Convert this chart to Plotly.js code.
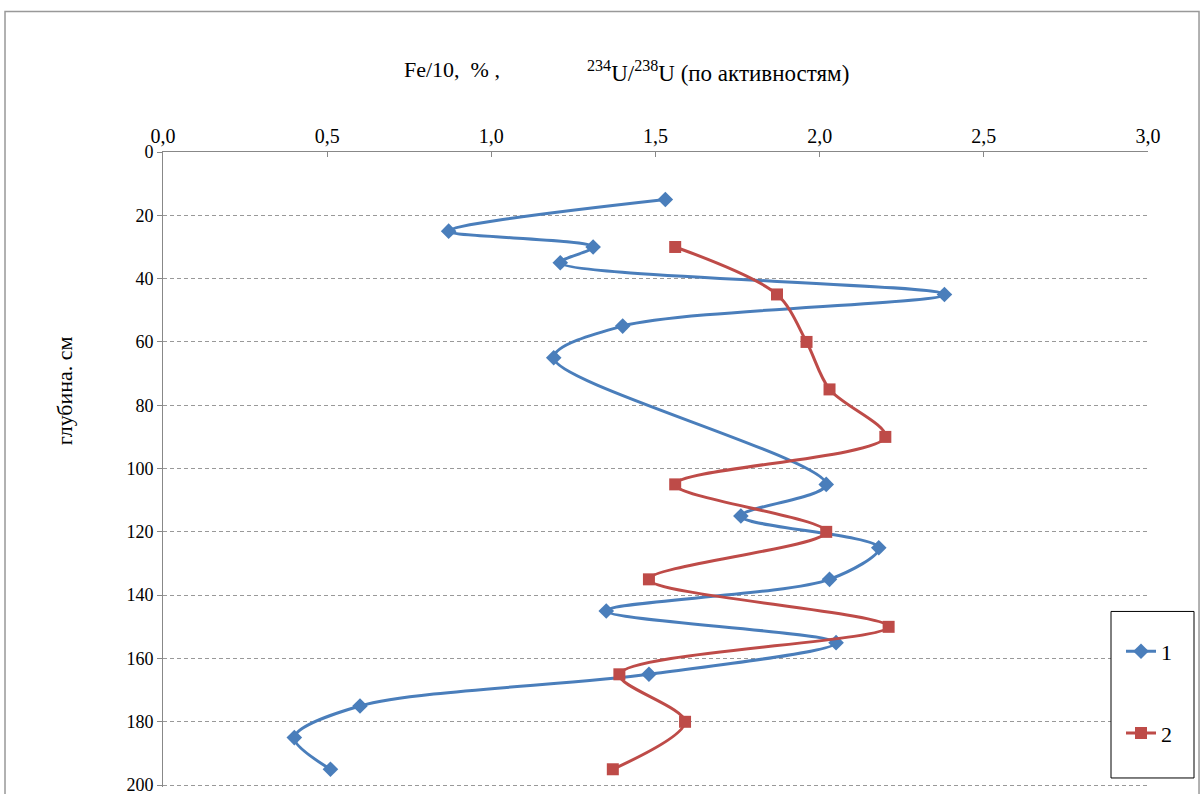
<!DOCTYPE html>
<html><head><meta charset="utf-8">
<script src="https://cdn.plot.ly/plotly-3.0.1.min.js"></script>
<style>body{margin:0;background:#fff}#chart{width:1203px;height:794px}</style>
</head><body><div id="chart"></div>
<script>
// Series 1: Fe/10, %
const depth1 = [15, 25, 30, 35, 45, 55, 65, 105, 115, 125, 135, 145, 155, 165, 175, 185, 195];
const fe = [1.53, 0.87, 1.31, 1.21, 2.38, 1.40, 1.19, 2.02, 1.76, 2.18, 2.03, 1.35, 2.05, 1.48, 0.60, 0.40, 0.51];
// Series 2: 234U/238U
const depth2 = [30, 45, 60, 75, 90, 105, 120, 135, 150, 165, 180, 195];
const uRatio = [1.56, 1.87, 1.96, 2.03, 2.20, 1.56, 2.02, 1.48, 2.21, 1.39, 1.59, 1.37];
const xTicks = [0, 0.5, 1.0, 1.5, 2.0, 2.5, 3.0];
const yTicks = [0, 20, 40, 60, 80, 100, 120, 140, 160, 180, 200];
const names = ['1', '2'];

const font = '"Times New Roman", "Liberation Serif", serif';
const traces = [
  {x: fe, y: depth1, name: names[0], mode: 'lines+markers', type: 'scatter',
   line: {color: '#4A7EBB', width: 3, shape: 'spline', smoothing: 0.9},
   marker: {symbol: 'diamond', size: 12, color: '#4A7EBB'}, legendgroup: 'a'},
  {x: uRatio, y: depth2, name: names[1], mode: 'lines+markers', type: 'scatter',
   line: {color: '#BE4B48', width: 3, shape: 'spline', smoothing: 0.9},
   marker: {symbol: 'square', size: 12, color: '#BE4B48'}, legendgroup: 'b'}
];
const layout = {
  width: 1203, height: 794,
  margin: {l: 163, r: 55, t: 152, b: 7},
  paper_bgcolor: '#fff', plot_bgcolor: '#fff',
  separators: ', ',
  font: {family: font, size: 20, color: '#000'},
  xaxis: {side: 'top', range: [0, 3], tickvals: xTicks, tickformat: '.1f',
    showgrid: false, zeroline: false, showline: true, linecolor: '#888', linewidth: 1,
    ticks: 'inside', ticklen: 5, tickcolor: '#888', tickfont: {size: 20, family: font}},
  yaxis: {range: [200.6, 0], tickvals: yTicks, showgrid: true, gridcolor: '#999', griddash: '4px,3px',
    gridwidth: 1, zeroline: false, showline: true, linecolor: '#888', linewidth: 1,
    ticks: 'outside', ticklen: 5, tickcolor: '#888', tickfont: {size: 18, family: font},
    ticklabeloverflow: 'allow'},
  showlegend: true,
  legend: {x: (1121 - 163) / 985, y: (785 - 629) / 633, xanchor: 'left', yanchor: 'top', borderwidth: 0,
    bgcolor: 'rgba(0,0,0,0)', font: {size: 22, family: font}, tracegroupgap: 50},
  annotations: [
    {text: 'Fe/10,\u00A0\u00A0%\u00A0,', xref: 'paper', yref: 'paper', x: (402 - 163) / 985, y: (785 - 55) / 633,
     xanchor: 'left', showarrow: false, font: {size: 22, family: font}},
    {text: '<sup>234</sup>U/<sup>238</sup>U (по активностям)', xref: 'paper', yref: 'paper',
     x: (585 - 163) / 985, y: (785 - 55) / 633, xanchor: 'left', showarrow: false, font: {size: 23, family: font}},
    {text: 'глубина. см', xref: 'paper', yref: 'paper', x: (50 - 163) / 985, y: (785 - 390) / 633,
     textangle: -90, showarrow: false, font: {size: 22, family: font}}
  ],
  shapes: [
    {type: 'path', xref: 'paper', yref: 'paper',
     path: 'M -0.1604 -0.05 L -0.1604 1.2212 L 1.0518 1.2212 L 1.0518 -0.05',
     line: {color: '#999', width: 1.5}},
    {type: 'rect', xref: 'paper', yref: 'paper',
     x0: (1111 - 163) / 985, x1: (1194 - 163) / 985, y0: (785 - 776) / 633, y1: (785 - 610) / 633,
     fillcolor: '#fff', line: {color: '#000', width: 1}, layer: 'above'}
  ]
};
Plotly.newPlot('chart', traces, layout, {displayModeBar: false});
</script></body></html>
